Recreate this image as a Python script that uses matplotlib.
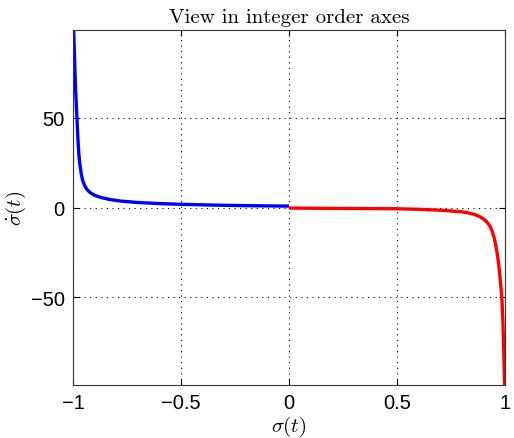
import matplotlib
matplotlib.use('Agg')
import matplotlib.pyplot as plt

# valeurs
blue_x = [-0.997, -0.994, -0.991, -0.988, -0.984, -0.981, -0.977, -0.973, -0.968, -0.962,
          -0.955, -0.945, -0.935, -0.92, -0.9, -0.87, -0.83, -0.78, -0.7, -0.6, -0.5,
          -0.4, -0.3, -0.2, -0.1, 0.0]
blue_y = [99, 88, 77, 66, 56, 48, 38, 30, 24, 19,
          15, 12, 10, 8.3, 6.8, 5.6, 4.5, 3.6, 2.8, 2.2, 1.8,
          1.5, 1.25, 1.05, 0.9, 0.8]

red_x = [0.0, 0.1, 0.2, 0.3, 0.4, 0.5, 0.6, 0.7, 0.75, 0.8, 0.83, 0.86, 0.88, 0.9,
         0.915, 0.93, 0.94, 0.95, 0.958, 0.965, 0.971, 0.977, 0.982, 0.986, 0.99,
         0.993, 0.9955, 0.998]
red_y = [-0.3, -0.4, -0.5, -0.55, -0.6, -0.7, -1.0, -1.5, -1.9, -2.4, -3.0, -3.9, -4.9, -6.3,
         -7.9, -10.3, -13, -17, -21.5, -26.5, -32, -39, -45.5, -52, -63,
         -75, -87, -99]

x_ticks = [-1, -0.5, 0, 0.5, 1]
x_labels = ['\u22121', '\u22120.5', '0', '0.5', '1']
y_ticks = [-50, 0, 50]
y_labels = ['\u221250', '0', '50']

plt.rcParams['mathtext.fontset'] = 'cm'
plt.rcParams['font.family'] = ['Liberation Sans', 'DejaVu Sans']

fig = plt.figure(figsize=(5.14, 4.39), dpi=100)
ax = fig.add_axes([0.142, 0.121, 0.8405, 0.808])

ax.plot(blue_x, blue_y, color='#0000ff', linewidth=2.4, solid_capstyle='butt')
ax.plot(red_x, red_y, color='#ff0000', linewidth=2.4, solid_capstyle='butt')

ax.set_xlim(-1, 1)
ax.set_ylim(-99, 99)
ax.set_xticks(x_ticks)
ax.set_xticklabels(x_labels)
ax.set_yticks(y_ticks)
ax.set_yticklabels(y_labels)
ax.tick_params(direction='in', length=4, labelsize=14.5, pad=6, top=True, right=True)
ax.grid(True, linestyle=(0, (1, 4)), color='black', linewidth=0.8)
for s in ax.spines.values():
    s.set_linewidth(0.8)
    s.set_color('#333333')

ax.set_title('View in integer order axes', family='cmr10', fontsize=15, pad=6)
ax.set_xlabel(r'$\sigma(t)$', fontsize=15, labelpad=1)
ax.set_ylabel(r'$\dot{\sigma}(t)$', fontsize=15, labelpad=2)

fig.savefig('out.png', dpi=100)
